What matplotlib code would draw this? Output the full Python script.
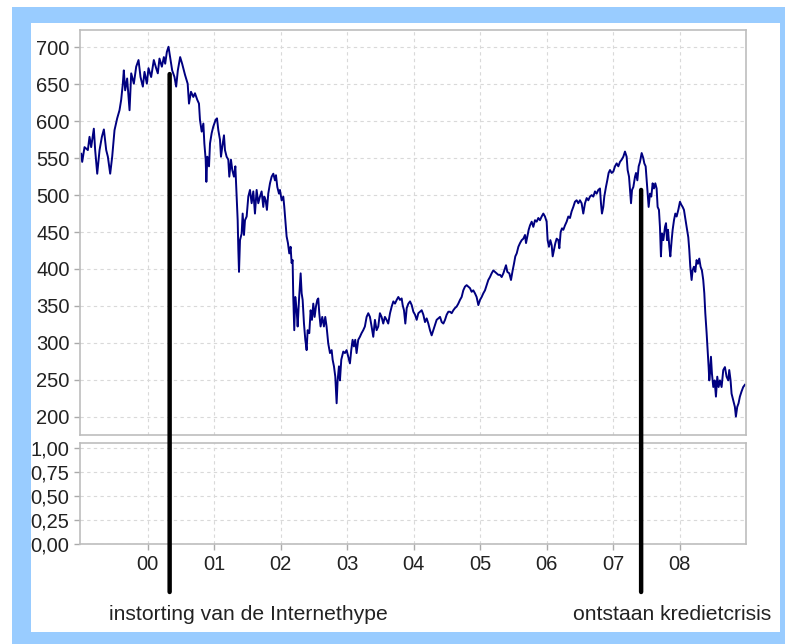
import matplotlib.pyplot as plt
from matplotlib.patches import Rectangle

plt.rcParams['font.family'] = ['Liberation Sans', 'DejaVu Sans']

# koersverloop (jaar als decimaal, indexwaarde)
years = [
    1999.000, 1999.015, 1999.050, 1999.100, 1999.125, 1999.150, 1999.190, 1999.210,
    1999.241, 1999.276, 1999.311, 1999.341, 1999.376, 1999.401, 1999.436, 1999.466,
    1999.501, 1999.541, 1999.576, 1999.601, 1999.626, 1999.641, 1999.661, 1999.691,
    1999.727, 1999.752, 1999.792, 1999.827, 1999.862, 1999.892, 1999.927, 1999.952,
    1999.987, 2000.012, 2000.052, 2000.092, 2000.127, 2000.152, 2000.177, 2000.213,
    2000.243, 2000.263, 2000.288, 2000.313, 2000.343, 2000.368, 2000.403, 2000.428,
    2000.453, 2000.488, 2000.518,
    2000.561, 2000.601, 2000.621, 2000.651, 2000.686, 2000.711, 2000.746, 2000.771,
    2000.786, 2000.812, 2000.837, 2000.852, 2000.872, 2000.882, 2000.897, 2000.922,
    2000.937, 2000.962, 2000.987, 2001.022, 2001.042, 2001.062, 2001.087, 2001.102,
    2001.122, 2001.147, 2001.162, 2001.187, 2001.212, 2001.227, 2001.252, 2001.272,
    2001.297, 2001.318, 2001.338, 2001.353, 2001.363, 2001.373, 2001.388, 2001.413,
    2001.428, 2001.448, 2001.463, 2001.488, 2001.513, 2001.538, 2001.563, 2001.588,
    2001.613, 2001.638, 2001.663, 2001.688, 2001.713, 2001.738, 2001.753, 2001.773,
    2001.793, 2001.813, 2001.839, 2001.864, 2001.889, 2001.914, 2001.929, 2001.949,
    2001.974,
    2001.989, 2002.014, 2002.039, 2002.054, 2002.074, 2002.089, 2002.109, 2002.129,
    2002.149, 2002.164, 2002.179, 2002.189, 2002.204, 2002.219, 2002.240, 2002.255,
    2002.275, 2002.300, 2002.315, 2002.330, 2002.350, 2002.370, 2002.390, 2002.405,
    2002.430, 2002.450, 2002.470, 2002.490, 2002.510, 2002.530, 2002.550, 2002.565,
    2002.580, 2002.600, 2002.625, 2002.650, 2002.670, 2002.690, 2002.715, 2002.741,
    2002.766, 2002.781, 2002.801, 2002.821, 2002.841, 2002.856, 2002.876, 2002.891,
    2002.911, 2002.941, 2002.966, 2002.991, 2003.016, 2003.041, 2003.061, 2003.081,
    2003.101, 2003.121, 2003.141, 2003.166, 2003.191, 2003.216, 2003.241, 2003.266,
    2003.292, 2003.317, 2003.342, 2003.367, 2003.392, 2003.417, 2003.442, 2003.467,
    2003.492, 2003.517, 2003.542, 2003.567, 2003.592, 2003.617,
    2003.644, 2003.669, 2003.694, 2003.719, 2003.744, 2003.769, 2003.794, 2003.819,
    2003.834, 2003.854, 2003.874, 2003.895, 2003.920, 2003.945, 2003.970, 2003.995,
    2004.020, 2004.045, 2004.070, 2004.095, 2004.120, 2004.145, 2004.170, 2004.195,
    2004.220, 2004.245, 2004.270, 2004.295, 2004.320, 2004.345, 2004.370, 2004.396,
    2004.421, 2004.446, 2004.471, 2004.496, 2004.521, 2004.546, 2004.571, 2004.596,
    2004.621, 2004.646, 2004.671, 2004.696, 2004.721, 2004.746, 2004.771, 2004.796,
    2004.821, 2004.846, 2004.871, 2004.896, 2004.921, 2004.946, 2004.972, 2004.997,
    2005.022, 2005.047, 2005.072, 2005.097, 2005.122, 2005.147, 2005.172, 2005.197,
    2005.222, 2005.247, 2005.272,
    2005.298, 2005.323, 2005.348, 2005.373, 2005.388, 2005.408, 2005.438, 2005.463,
    2005.488, 2005.508, 2005.528, 2005.549, 2005.574, 2005.599, 2005.624, 2005.649,
    2005.674, 2005.689, 2005.709, 2005.729, 2005.749, 2005.774, 2005.799, 2005.824,
    2005.849, 2005.874, 2005.899, 2005.924, 2005.949, 2005.974, 2005.999, 2006.014,
    2006.034, 2006.055, 2006.075, 2006.090, 2006.110, 2006.130, 2006.150, 2006.175,
    2006.190, 2006.210, 2006.230, 2006.250, 2006.275, 2006.300, 2006.325, 2006.350,
    2006.375, 2006.400, 2006.425, 2006.450, 2006.475, 2006.500, 2006.525, 2006.550,
    2006.576, 2006.601, 2006.626, 2006.651, 2006.676, 2006.701, 2006.726, 2006.751,
    2006.776, 2006.801, 2006.816, 2006.831, 2006.851, 2006.866, 2006.891, 2006.911,
    2006.931,
    2006.952, 2006.977, 2007.002, 2007.027, 2007.052, 2007.077, 2007.102, 2007.127,
    2007.152, 2007.177, 2007.202, 2007.217, 2007.238, 2007.253, 2007.268, 2007.283,
    2007.303, 2007.328, 2007.343, 2007.363, 2007.383, 2007.403, 2007.428, 2007.453,
    2007.468, 2007.488, 2007.503, 2007.518, 2007.533, 2007.553, 2007.573, 2007.593,
    2007.613, 2007.633, 2007.653, 2007.668, 2007.688, 2007.703, 2007.718, 2007.733,
    2007.754, 2007.779, 2007.794, 2007.809, 2007.824, 2007.844, 2007.859, 2007.879,
    2007.894, 2007.914, 2007.934, 2007.954, 2007.979, 2008.004, 2008.024, 2008.044,
    2008.064, 2008.079, 2008.104, 2008.129, 2008.144, 2008.159, 2008.179, 2008.194,
    2008.214, 2008.234, 2008.254, 2008.274, 2008.294, 2008.314, 2008.334, 2008.354,
    2008.370, 2008.385, 2008.405, 2008.420, 2008.435, 2008.445, 2008.455, 2008.470,
    2008.485, 2008.505, 2008.525, 2008.545, 2008.565, 2008.585, 2008.605, 2008.630,
    2008.655, 2008.680, 2008.705, 2008.730, 2008.745, 2008.765, 2008.780, 2008.805,
    2008.830, 2008.845, 2008.865, 2008.885, 2008.905, 2008.930, 2008.955, 2008.980,
]
index_values = [
    556, 545, 565, 561, 579, 565, 590, 561,
    529, 561, 579, 589, 561, 552, 529, 552,
    588, 604, 615, 629, 651, 669, 642, 658,
    615, 665, 651, 674, 683, 660, 647, 667,
    651, 672, 660, 683, 672, 665, 685, 674,
    687, 678, 694, 701, 683, 669, 660, 647,
    669, 687, 678,
    663, 651, 624, 640, 633, 638, 629, 624,
    602, 586, 597, 570, 548, 518, 552, 539,
    570, 584, 593, 602, 604, 588, 575, 552,
    566, 581, 561, 552, 548, 525, 548, 534,
    525, 539, 498, 466, 426, 396, 439, 448,
    475, 446, 466, 471, 498, 507, 489, 505,
    475, 507, 489, 498, 505, 484, 498, 493,
    480, 502, 516, 525, 529, 520, 527, 511,
    502,
    507, 493, 498, 484, 462, 444, 435, 421,
    430, 408, 412, 362, 317, 362, 344, 322,
    358, 394, 367, 358, 326, 304, 290, 317,
    313, 344, 331, 353, 335, 349, 358, 360,
    340, 322, 335, 322, 335, 322, 299, 286,
    290, 277, 268, 254, 218, 249, 268, 249,
    277, 288, 286, 290, 281, 272, 290, 304,
    295, 304, 286, 304, 308, 313, 317, 322,
    335, 340, 335, 322, 308, 331, 317, 322,
    340, 335, 326, 335, 331, 326,
    340, 349, 356, 353, 358, 362, 358, 360,
    351, 344, 326, 347, 353, 356, 351, 342,
    338, 331, 340, 342, 344, 338, 328, 333,
    326, 317, 310, 317, 324, 331, 333, 335,
    328, 326, 331, 338, 342, 342, 340, 344,
    347, 349, 353, 358, 362, 371, 376, 378,
    376, 374, 369, 371, 367, 362, 351, 358,
    362, 367, 371, 378, 385, 389, 394, 398,
    396, 394, 392,
    392, 389, 394, 401, 405, 396, 394, 385,
    398, 407, 417, 421, 430, 435, 439, 441,
    446, 435, 444, 453, 459, 464, 457, 466,
    464, 469, 466, 471, 475, 471, 464, 439,
    430, 439, 432, 417, 426, 435, 441, 439,
    428, 450, 455, 453, 459, 464, 471, 469,
    478, 484, 491, 493, 489, 493, 489, 475,
    489, 496, 493, 498, 500, 498, 505, 502,
    507, 509, 489, 475, 484, 498, 511, 520,
    530,
    534, 530, 532, 539, 543, 539, 545, 548,
    552, 559, 552, 534, 525, 507, 489, 507,
    511, 525, 530, 520, 539, 545, 557, 550,
    543, 539, 520, 502, 484, 502, 498, 516,
    509, 516, 509, 484, 480, 457, 417, 448,
    439, 457, 462, 439, 453, 430, 417, 439,
    453, 466, 475, 471, 480, 491, 487, 484,
    480, 471, 457, 443, 426, 403, 385, 398,
    403, 396, 412, 407, 414, 403, 398, 385,
    367, 340, 313, 290, 267, 249, 258, 281,
    258, 240, 249, 227, 254, 240, 249, 240,
    263, 267, 254, 249, 263, 249, 231, 222,
    213, 200, 213, 218, 227, 234, 240, 243,
]

year_ticks = [2000, 2001, 2002, 2003, 2004, 2005, 2006, 2007, 2008]
year_labels = ['00', '01', '02', '03', '04', '05', '06', '07', '08']
price_ticks = [200, 250, 300, 350, 400, 450, 500, 550, 600, 650, 700]
lower_ticks = [0, 0.25, 0.5, 0.75, 1.0]
lower_labels = ['0,00', '0,25', '0,50', '0,75', '1,00']

# gebeurtenissen met pijl
event_years = [2000.33, 2007.42]
event_tops = [664, 507]
event_texts = ['instorting van de Internethype', 'ontstaan kredietcrisis']

W, H = 785, 644
fig = plt.figure(figsize=(W / 100, H / 100), dpi=100)
fig.patch.set_facecolor('white')

# blauwe rand
fig.patches.append(Rectangle((12 / W, 0), (W - 12) / W, (H - 7) / H,
                             transform=fig.transFigure, facecolor='#99ccff',
                             edgecolor='none', zorder=-3))
fig.patches.append(Rectangle((31 / W, (H - 632) / H), (780 - 31) / W, (632 - 23) / H,
                             transform=fig.transFigure, facecolor='white',
                             edgecolor='none', zorder=-2))

ax2 = fig.add_axes([80 / W, (H - 544) / H, 666 / W, 101.3 / H])
ax = fig.add_axes([80 / W, (H - 435) / H, 666 / W, 405 / H])
ax2.set_facecolor('none')
ax.set_facecolor('none')

grid_kw = dict(color='#d9d9d9', linestyle=(0, (3, 3)), linewidth=0.8)
for a in (ax, ax2):
    a.set_xlim(1998.982, 2008.997)
    a.set_xticks(year_ticks)
    a.grid(True, **grid_kw)
    a.set_axisbelow(True)
    for s in a.spines.values():
        s.set_color('#bdbdbd')
        s.set_linewidth(1.2)
    a.tick_params(colors='#aaaaaa', labelcolor='#222222', labelsize=14.5,
                  length=4, width=1)

ax.plot(years, index_values, color='#000080', linewidth=1.4)
ax.set_ylim(175, 723.7)
ax.set_yticks(price_ticks)
ax.tick_params(axis='x', length=0, labelbottom=False)

ax2.set_ylim(0, 1.055)
ax2.set_yticks(lower_ticks)
ax2.set_yticklabels(lower_labels)
ax2.set_xticklabels(year_labels)
ax2.tick_params(axis='x', pad=4)

# pijlen naar de toelichting onderaan
for yr, top in zip(event_years, event_tops):
    ax.annotate('', xy=(yr, 1 - 592 / H), xycoords=('data', 'figure fraction'),
                xytext=(yr, top), textcoords='data', annotation_clip=False,
                arrowprops=dict(arrowstyle='-', color='black', linewidth=3.2,
                                shrinkA=0, shrinkB=0))

fig.text(248 / W, 1 - 615 / H, event_texts[0], ha='center', va='center',
         fontsize=15.2, color='#222222')
fig.text(771 / W, 1 - 615 / H, event_texts[1], ha='right', va='center',
         fontsize=15.2, color='#222222')

fig.savefig('out.png', dpi=100, facecolor=fig.get_facecolor())
